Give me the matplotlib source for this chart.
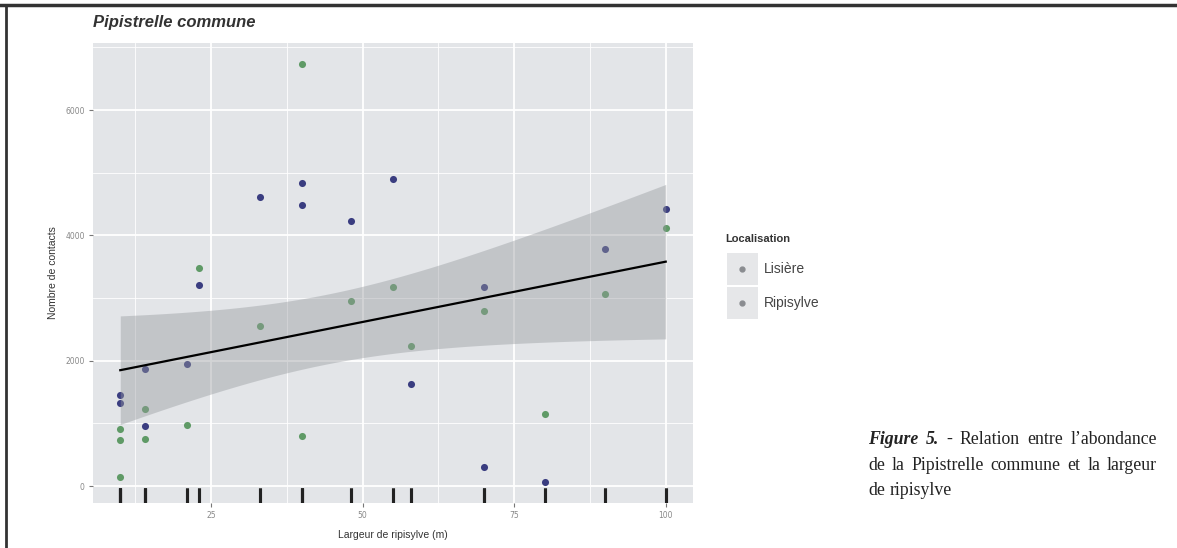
import matplotlib
matplotlib.use("Agg")
import matplotlib.pyplot as plt
import numpy as np
from matplotlib.lines import Line2D
from matplotlib.patches import Rectangle

# data
lisiere_x = [10, 10, 14, 14, 21, 23, 33, 40, 40, 48, 55, 58, 70, 70, 80, 90, 100]
lisiere_y = [1456, 1328, 1872, 960, 1952, 3216, 4608, 4832, 4480, 4224, 4896,
             1632, 3184, 304, 64, 3776, 4416]
ripi_x = [10, 10, 10, 14, 14, 21, 23, 33, 40, 40, 48, 55, 58, 70, 80, 90, 100]
ripi_y = [912, 736, 144, 1232, 752, 976, 3472, 2560, 6736, 800, 2960, 3184,
          2240, 2800, 1152, 3072, 4112]

locations = ["Lisière", "Ripisylve"]
colors = ["#3a3d80", "#5f9a66"]
x_ticks = [25, 50, 75, 100]
y_ticks = [0, 2000, 4000, 6000]
T_975 = 2.037  # t quantile, df = n - 2 = 32

W, H = 1177, 548
fig = plt.figure(figsize=(W / 100, H / 100), dpi=100)
ax = fig.add_axes([93 / W, 1 - 503 / H, 600 / W, 460 / H])
ax.set_facecolor("#e3e5e8")

# linear fit on all points with 95% confidence band
x_all = np.array(lisiere_x + ripi_x, dtype=float)
y_all = np.array(lisiere_y + ripi_y, dtype=float)
n = len(x_all)
b1, b0 = np.polyfit(x_all, y_all, 1)
resid = y_all - (b0 + b1 * x_all)
s = np.sqrt(np.sum(resid ** 2) / (n - 2))
xm = x_all.mean()
sxx = np.sum((x_all - xm) ** 2)
xs = np.linspace(x_all.min(), x_all.max(), 100)
fit = b0 + b1 * xs
half = T_975 * s * np.sqrt(1 / n + (xs - xm) ** 2 / sxx)

ax.scatter(lisiere_x, lisiere_y, s=26, color=colors[0], zorder=3, linewidths=0)
ax.scatter(ripi_x, ripi_y, s=26, color=colors[1], zorder=3, linewidths=0)
ax.fill_between(xs, fit - half, fit + half, color="#969a9e", alpha=0.42,
                linewidth=0, zorder=4)
ax.plot(xs, fit, color="black", lw=1.6, zorder=5)
ax.vlines(x_all, 0, 0.033, transform=ax.get_xaxis_transform(),
          color="#222222", lw=2.2, zorder=6)

ax.set_xlim(5.5, 104.5)
ax.set_ylim(-270, 7070)
ax.set_xticks(x_ticks)
ax.set_yticks(y_ticks)
ax.set_xticks([12.5, 37.5, 62.5, 87.5], minor=True)
ax.set_yticks([1000, 3000, 5000, 7000], minor=True)
ax.grid(which="major", color="white", lw=1.3)
ax.grid(which="minor", color="white", lw=0.6)
ax.set_axisbelow(True)
for sp in ax.spines.values():
    sp.set_visible(False)
ax.tick_params(which="major", length=3, color="#777777", labelsize=5.5,
               labelcolor="#888888", pad=3)
ax.tick_params(which="minor", length=0)

ax.set_xlabel("Largeur de ripisylve (m)", fontsize=7.5, color="#333333",
              family="Liberation Sans", labelpad=7)
ax.set_ylabel("Nombre de contacts", fontsize=7.5, color="#333333",
              family="Liberation Sans", labelpad=5)

fig.text(93 / W, 1 - 22 / H, "Pipistrelle commune", fontsize=12,
         weight="bold", style="italic", family="Liberation Sans",
         color="#333333", va="center", ha="left")

# legend
fig.text(725 / W, 1 - 239 / H, "Localisation", fontsize=8, weight="bold",
         family="Liberation Sans", color="#333333", va="center")
for i, (lab, col) in enumerate(zip(locations, colors)):
    yc = 269 + i * 34
    fig.add_artist(Rectangle((727 / W, 1 - (yc + 16) / H), 31 / W, 32 / H,
                             transform=fig.transFigure, color="#e6e7e9",
                             lw=0))
    fig.add_artist(Line2D([742 / W], [1 - yc / H], marker="o", ms=3.5,
                          color="#8a8c90", transform=fig.transFigure))
    fig.text(764 / W, 1 - yc / H, lab, fontsize=10, family="Liberation Sans",
             color="#444444", va="center")

# page frame lines
fig.add_artist(Line2D([0, 1], [1 - 5 / H, 1 - 5 / H], color="#333333", lw=2.5,
                      transform=fig.transFigure))
fig.add_artist(Line2D([6 / W, 6 / W], [0, 1 - 5 / H], color="#333333", lw=2,
                      transform=fig.transFigure))

# caption, justified between two margins
renderer = fig.canvas.get_renderer()


def justified(words, y, x0=868, x1=1157, stretch=True):
    texts = []
    for w, bold in words:
        t = fig.text(0, 1 - y / H, w, fontsize=12.8, family="Liberation Serif",
                     weight="bold" if bold else "normal",
                     style="italic" if bold else "normal", color="#222222",
                     va="baseline")
        texts.append(t)
    widths = [t.get_window_extent(renderer).width for t in texts]
    if stretch:
        gap = (x1 - x0 - sum(widths)) / (len(words) - 1)
    else:
        gap = 4.5
    x = x0
    for t, wd in zip(texts, widths):
        t.set_x(x / W)
        x += wd + gap


justified([("Figure", True), ("5.", True), ("-", False), ("Relation", False),
           ("entre", False), ("l’abondance", False)], 444)
justified([(w, False) for w in "de la Pipistrelle commune et la largeur".split()], 470)
justified([("de", False), ("ripisylve", False)], 495, stretch=False)

fig.savefig("out.png", dpi=100)
